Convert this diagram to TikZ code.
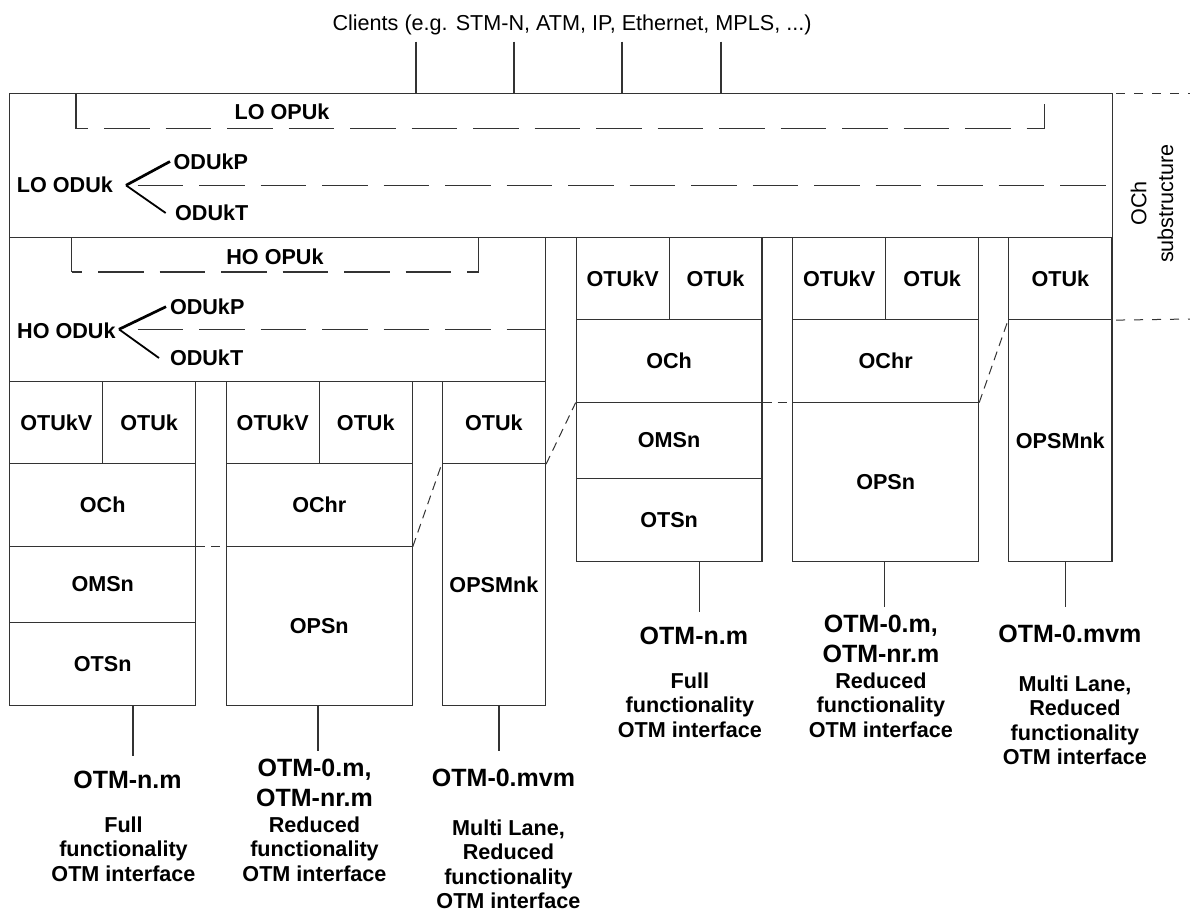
\documentclass[tikz,border=0pt]{standalone}
\usepackage{fontspec}
\setmainfont{Liberation Sans}
\newcommand\cellfont{\fontsize{10.8}{12.25}\selectfont\bfseries}
\newcommand\otmbig{\fontsize{12.5}{15}\selectfont\bfseries}
\newcommand\otmsmall{\fontsize{10.8}{12.25}\selectfont\bfseries}
\newcommand\regfont{\fontsize{10.8}{13.35}\selectfont}
\colorlet{linec}{black!80}
\tikzset{
  cell/.style 2 args={draw=linec, line width=0.55pt, minimum width=#1*0.5pt,
    minimum height=#2*0.5pt, anchor=north west, inner sep=0pt, font=\cellfont},
  frame/.style 2 args={draw=linec, line width=0.55pt, minimum width=#1*0.5pt,
    minimum height=#2*0.5pt, anchor=north west, inner sep=0pt},
  lbl/.style={inner sep=0pt, font=\cellfont},
  biglbl/.style={inner sep=0pt, font=\otmbig, align=center, anchor=north},
  smalllbl/.style={inner sep=0pt, font=\otmsmall, align=center, anchor=north},
  thin/.style={draw=linec, line width=0.55pt},
  longdash/.style={draw=linec, line width=0.55pt, dash pattern=on 22.75pt off 8pt},
  smalldash/.style={draw=linec, line width=0.5pt, dash pattern=on 4.5pt off 3pt},
  subdash/.style={draw=linec, line width=0.5pt, dash pattern=on 4.5pt off 4.5pt},
}
\newcommand\otmgroup[1]{%
  % stack 1
  \node[cell={92.85}{82}] (#1-s1v) at (0,0) {OTUkV};
  \node[cell={92.85}{82}] (#1-s1k) at (92.85,0) {OTUk};
  \node[cell={185.7}{82.5}] (#1-s1o) at (0,82) {OCh};
  \node[cell={185.7}{76.5}] (#1-s1m) at (0,164.5) {OMSn};
  \node[cell={185.7}{83}] (#1-s1t) at (0,241) {OTSn};
  % stack 2
  \node[cell={93}{82}] (#1-s2v) at (216.4,0) {OTUkV};
  \node[cell={93}{82}] (#1-s2k) at (309.4,0) {OTUk};
  \node[cell={186}{82.5}] (#1-s2o) at (216.4,82) {OChr};
  \node[cell={186}{159.5}] (#1-s2p) at (216.4,164.5) {OPSn};
  % stack 3
  \node[cell={103.3}{82}] (#1-s3k) at (432.4,0) {OTUk};
  \node[cell={103.3}{242}] (#1-s3p) at (432.4,82) {OPSMnk};
  % dashed links between stacks
  \draw[smalldash] (#1-s1o.south east) -- (#1-s2o.south west);
  \draw[smalldash] (#1-s2o.south east) -- (#1-s3k.south west);
  % legs
  \coordinate (#1-e1) at (123.7,375);
  \coordinate (#1-e2) at (308.7,370);
  \coordinate (#1-e3) at (489.7,370);
  \draw[thin] (#1-s1t.south -| #1-e1) -- (#1-e1);
  \draw[thin] (#1-s2p.south -| #1-e2) -- (#1-e2);
  \draw[thin] (#1-s3p.south -| #1-e3) -- (#1-e3);
  % labels
  \node[biglbl] (#1-l1) at (118.2,389.4) {OTM-n.m};
  \node[smalllbl] (#1-d1) at (114.2,435) {Full\\functionality\\OTM interface};
  \node[biglbl] (#1-l2) at (305.2,377.8) {OTM-0.m,\\OTM-nr.m};
  \node[smalllbl] (#1-d2) at (305.2,435) {Reduced\\functionality\\OTM interface};
  \node[biglbl] (#1-l3) at (494.2,387.5) {OTM-0.mvm};
  \node[smalllbl] (#1-d3) at (499.2,438) {Multi Lane,\\Reduced\\functionality\\OTM interface};
}
\begin{document}
\begin{tikzpicture}[x=0.5pt, y=-0.5pt]
\useasboundingbox (0,0) rectangle (1190,912);

% clients
\node[inner sep=0pt, font=\regfont, anchor=base] (clients) at (572,30)
  {Clients (e.g. STM-N, ATM, IP, Ethernet, MPLS, ...)};

% LO box
\node[frame={1102.2}{144}] (lobox) at (9.3,93) {};
\foreach \cx [count=\i] in {416,514,622,721}{
  \coordinate (c\i) at (\cx,41.7);
  \draw[thin] (c\i) -- (c\i |- lobox.north);
}

% LO OPUk bracket
\coordinate (lo-a) at (76,128.7);
\coordinate (lo-b) at (1044.3,128.7);
\coordinate (lo-c) at (1044.3,104);
\draw[thin] (lo-a |- lobox.north) -- (lo-a);
\draw[longdash, dash phase=16.75pt] (lo-a) -- (lo-b);
\draw[thin] (lo-b) -- (lo-c);
\node[lbl] (lo-opuk) at (282,111.7) {LO OPUk};

% LO ODUk
\node[lbl, anchor=east] (lo-oduk) at (113.3,184.5) {LO ODUk};
\coordinate (lo-apex) at (126,185.3);
\node[lbl, anchor=west, inner xsep=1.6pt] (lo-p) at (170,161.5) {ODUkP};
\node[lbl, anchor=west, inner xsep=4.5pt] (lo-t) at (165.7,213) {ODUkT};
\draw[line width=1.35pt] (lo-apex) -- (lo-p.west);
\draw[line width=0.9pt] (lo-apex) -- (lo-t.west);
\coordinate (lo-d) at (137.7,185.3);
\draw[longdash] (lo-d) -- (lo-d -| lobox.east);

% HO box
\node[frame={535.7}{144}] (hobox) at (9.3,237) {};
\coordinate (ho-a) at (71.7,272);
\coordinate (ho-b) at (478.6,272);
\draw[thin] (ho-a |- hobox.north) -- (ho-a);
\draw[longdash, dash phase=17.5pt] (ho-a) -- (ho-b);
\draw[thin] (ho-b) -- (ho-b |- hobox.north);
\node[lbl] (ho-opuk) at (275,256.7) {HO OPUk};

\node[lbl, anchor=east] (ho-oduk) at (116,330.5) {HO ODUk};
\coordinate (ho-apex) at (119,329.3);
\node[lbl, anchor=west, inner xsep=1.8pt] (ho-p) at (166,306.7) {ODUkP};
\node[lbl, anchor=west, inner xsep=5.3pt] (ho-t) at (159,358) {ODUkT};
\draw[line width=1.35pt] (ho-apex) -- (ho-p.west);
\draw[line width=0.9pt] (ho-apex) -- (ho-t.west);
\coordinate (ho-d) at (137.5,329.3);
\draw[longdash] (ho-d) -- (ho-d -| hobox.east);

% stacks
\begin{scope}[shift={(9.3,381)}]
  \otmgroup{L}
\end{scope}
\begin{scope}[shift={(575.7,237)}]
  \otmgroup{R}
\end{scope}
\draw[smalldash] (L-s3k.south east) -- (R-s1o.south west);

% OCh substructure
\coordinate (sub-a) at (1190,93);
\coordinate (sub-b) at (1190,319);
\draw[subdash] ([xshift=1.75pt]lobox.north east) -- (sub-a);
\draw[subdash] ([xshift=1.75pt]R-s3k.south east) -- (sub-b);
\node[inner sep=0pt, font=\regfont, rotate=90, align=center] (och) at (1152,203.5) {OCh\\substructure};
\end{tikzpicture}
\end{document}
